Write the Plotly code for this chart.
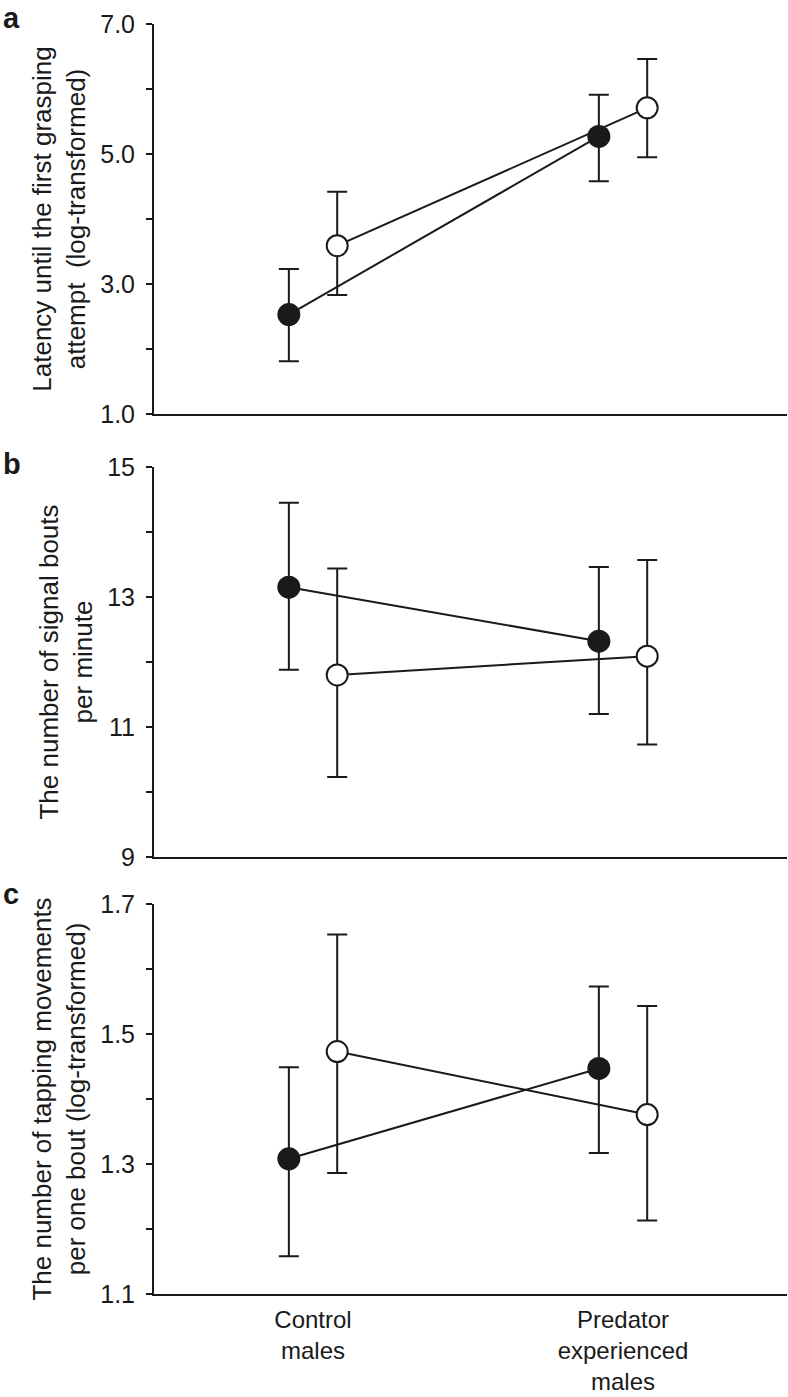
import plotly.graph_objects as go

# ---------------- data ----------------
categories = ["Control<br>males", "Predator<br>experienced<br>males"]
cat_pos = [1, 2]

# panel a: latency until the first grasping attempt (log-transformed)
a_filled = [2.53, 5.27]
a_filled_hi = [3.23, 5.91]
a_filled_lo = [1.81, 4.58]
a_open = [3.59, 5.71]
a_open_hi = [4.42, 6.46]
a_open_lo = [2.83, 4.95]

# panel b: number of signal bouts per minute
b_filled = [13.15, 12.32]
b_filled_hi = [14.45, 13.46]
b_filled_lo = [11.88, 11.20]
b_open = [11.80, 12.09]
b_open_hi = [13.44, 13.57]
b_open_lo = [10.23, 10.73]

# panel c: number of tapping movements per one bout (log-transformed)
c_filled = [1.308, 1.447]
c_filled_hi = [1.449, 1.573]
c_filled_lo = [1.158, 1.317]
c_open = [1.473, 1.376]
c_open_hi = [1.653, 1.543]
c_open_lo = [1.286, 1.213]

y_titles = [
    "Latency until the first grasping<br>attempt  (log-transformed)",
    "The number of signal bouts<br>per minute",
    "The number of tapping movements<br>per one bout (log-transformed)",
]
y_ranges = [[1.0, 7.0], [9, 15], [1.1, 1.7]]
y_major = [[1.0, 3.0, 5.0, 7.0], [9, 11, 13, 15], [1.1, 1.3, 1.5, 1.7]]
y_major_text = [["1.0", "3.0", "5.0", "7.0"], ["9", "11", "13", "15"], ["1.1", "1.3", "1.5", "1.7"]]
y_minor = [[2.0, 4.0, 6.0], [10, 12, 14], [1.2, 1.4, 1.6]]
panel_letters = ["a", "b", "c"]

# ---------------- style ----------------
INK = "#1a1a1a"
FONT = "Liberation Sans, Arial, Helvetica, sans-serif"
FS = 26
TFS = 25
XFS = 24
DODGE = 0.078
W, H = 788, 1397
ML, MR, MT, MB = 154, 1, 24, 103
domains = [[0.6929, 1.0], [0.3441, 0.6512], [0.0, 0.3071]]

fig = go.Figure()

panels = [
    (a_filled, a_filled_hi, a_filled_lo, a_open, a_open_hi, a_open_lo),
    (b_filled, b_filled_hi, b_filled_lo, b_open, b_open_hi, b_open_lo),
    (c_filled, c_filled_hi, c_filled_lo, c_open, c_open_hi, c_open_lo),
]

for i, (f, fhi, flo, o, ohi, olo) in enumerate(panels):
    xa = "x" if i == 0 else f"x{i+1}"
    ya = "y" if i == 0 else f"y{i+1}"
    xf = [p - DODGE for p in cat_pos]
    xo = [p + DODGE for p in cat_pos]
    # open series
    fig.add_trace(go.Scatter(
        x=xo, y=o, xaxis=xa, yaxis=ya, mode="lines+markers",
        line=dict(color=INK, width=2),
        marker=dict(size=21, color="white", line=dict(color=INK, width=2)),
        error_y=dict(type="data", symmetric=False,
                     array=[h - m for h, m in zip(ohi, o)],
                     arrayminus=[m - l for m, l in zip(o, olo)],
                     color=INK, thickness=2, width=10),
        showlegend=False, cliponaxis=False,
    ))
    # filled series
    fig.add_trace(go.Scatter(
        x=xf, y=f, xaxis=xa, yaxis=ya, mode="lines+markers",
        line=dict(color=INK, width=2),
        marker=dict(size=23, color=INK, line=dict(color=INK, width=0)),
        error_y=dict(type="data", symmetric=False,
                     array=[h - m for h, m in zip(fhi, f)],
                     arrayminus=[m - l for m, l in zip(f, flo)],
                     color=INK, thickness=2, width=10),
        showlegend=False, cliponaxis=False,
    ))

layout = dict(
    template="none",
    width=W, height=H,
    margin=dict(l=ML, r=MR, t=MT, b=MB, autoexpand=False),
    paper_bgcolor="white", plot_bgcolor="white",
    font=dict(family=FONT, size=FS, color=INK),
    showlegend=False,
)

for i in range(3):
    xk = "xaxis" if i == 0 else f"xaxis{i+1}"
    yk = "yaxis" if i == 0 else f"yaxis{i+1}"
    ya = "y" if i == 0 else f"y{i+1}"
    xa = "x" if i == 0 else f"x{i+1}"
    layout[xk] = dict(
        domain=[0, 1], anchor=ya, range=[0.487, 2.529],
        showline=True, linecolor=INK, linewidth=2,
        showgrid=False, zeroline=False, ticks="", automargin=False,
        tickvals=cat_pos, ticktext=categories,
        showticklabels=(i == 2), ticklabelstandoff=3,
        tickfont=dict(family=FONT, size=XFS, color=INK),
    )
    layout[yk] = dict(
        domain=domains[i], anchor=xa, range=y_ranges[i],
        showline=True, linecolor=INK, linewidth=2,
        showgrid=False, zeroline=False, automargin=False,
        ticks="outside", ticklen=6, tickwidth=2, tickcolor=INK,
        tickvals=y_major[i], ticktext=y_major_text[i],
        minor=dict(tickvals=y_minor[i], ticks="outside", ticklen=6,
                   tickwidth=2, tickcolor=INK),
        tickfont=dict(family=FONT, size=TFS, color=INK),
        ticklabelstandoff=6,
        title=dict(text=y_titles[i], font=dict(family=FONT, size=FS, color=INK),
                   standoff=7),
    )

fig.update_layout(**layout)

letter_top_px = [0, 446, 876]
for letter, ytop in zip(panel_letters, letter_top_px):
    fig.add_annotation(
        text=f"<b>{letter}</b>", xref="paper", yref="paper",
        x=(1 - ML) / (W - ML - MR), y=(H - MB - ytop) / (H - MT - MB),
        xanchor="left", yanchor="top",
        showarrow=False, font=dict(family=FONT, size=29, color=INK),
    )

# remove the browser's default 8px page margin so the figure fills the window
fig.write_html("out.html", config={"displayModeBar": False},
               post_script="document.body.style.margin='0px';")
